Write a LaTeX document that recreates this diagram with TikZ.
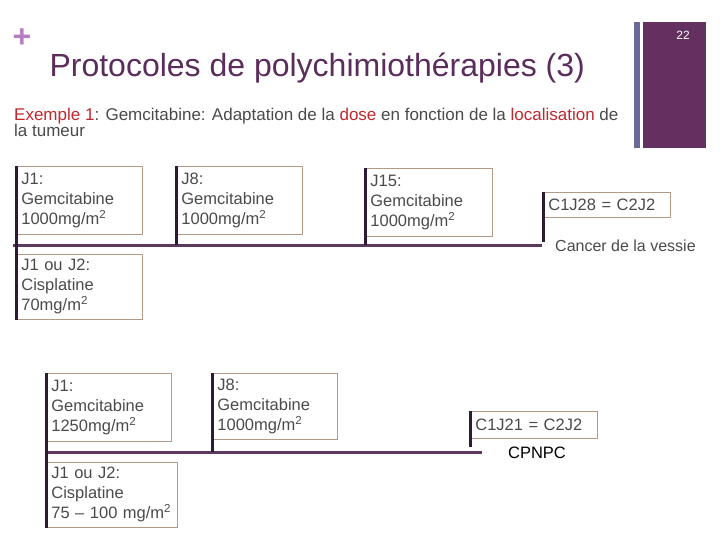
\documentclass[tikz,border=0pt]{standalone}
\usepackage{fontspec}
\setmainfont{Liberation Sans}
\definecolor{titlepurple}{HTML}{5A2D5C}
\definecolor{pluspink}{HTML}{B57EC0}
\definecolor{barslate}{HTML}{6A6A99}
\definecolor{barpurple}{HTML}{633060}
\definecolor{lineplum}{HTML}{5C3A5E}
\definecolor{tickdark}{HTML}{2D1A33}
\definecolor{boxtan}{HTML}{B49A86}
\definecolor{hotred}{HTML}{C0282D}
\definecolor{txtgray}{HTML}{4A4A4A}
\begin{document}
\begin{tikzpicture}[
  x=1pt, y=-1pt,
  every node/.style={font=\fontsize{16.5}{20}\selectfont, text=txtgray},
  dosebox/.style={draw=boxtan, line width=0.8pt, anchor=north west, align=left,
    inner xsep=5pt, inner ysep=0pt, minimum height=#1},
  dosebox/.default=68,
  timeline/.style={draw=lineplum, line width=3pt},
  tick/.style={draw=tickdark, line width=3pt}
]
  \useasboundingbox (0,0) rectangle (720,540);
  % header
  \node[text=pluspink, font=\fontsize{32}{32}\selectfont\bfseries] (plus) at (22,38) {+};
  \node[anchor=base west, text=titlepurple, font=\fontsize{32}{32}\selectfont] (title) at (46,77)
    {Protocoles de polychimiothérapies (3)};
  \fill[barslate] (634,22) rectangle (640,148);
  \fill[barpurple] (643,22) rectangle (706,148);
  \node[text=white, font=\fontsize{12}{12}\selectfont] (num) at (683,35) {22};
  \node[anchor=north west, align=left, inner sep=0pt, font=\fontsize{17}{16}\selectfont] (sub) at (14,108)
    {\textcolor{hotred}{Exemple 1}: Gemcitabine: Adaptation de la \textcolor{hotred}{dose} en fonction de la \textcolor{hotred}{localisation} de\\la tumeur};

  % vessie
  \node[dosebox, text width=116pt] (a1) at (16,166) {J1:\\Gemcitabine\\1000mg/m\textsuperscript{2}};
  \node[dosebox, text width=116pt] (a8) at (176,166) {J8:\\Gemcitabine\\1000mg/m\textsuperscript{2}};
  \node[dosebox, text width=117pt] (a15) at (365,168) {J15:\\Gemcitabine\\1000mg/m\textsuperscript{2}};
  \node[dosebox=25, text width=117pt] (a28) at (543,192) {C1J28 = C2J2};
  \node[dosebox=65, text width=116pt] (acis) at (16,254) {J1 ou J2:\\Cisplatine\\70mg/m\textsuperscript{2}};
  \node[anchor=west, inner sep=0pt, font=\fontsize{16}{20}\selectfont] (vessie) at (555,246) {Cancer de la vessie};

  \coordinate (va) at (13,245);
  \coordinate (vb) at (542,245);
  \draw[timeline] (va) -- (vb);
  \draw[tick] (a1.north west) -- (acis.south west);
  \draw[tick] (a8.north west) -- (a8.north west |- va);
  \draw[tick] (a15.north west) -- (a15.north west |- va);
  \draw[tick] (a28.north west) -- ([yshift=3pt]a28.north west |- vb);

  % CPNPC
  \node[dosebox, text width=115pt] (b1) at (46,373) {J1:\\Gemcitabine\\1250mg/m\textsuperscript{2}};
  \node[dosebox=66, text width=115pt] (b8) at (212,373) {J8:\\Gemcitabine\\1000mg/m\textsuperscript{2}};
  \node[dosebox=27, text width=117pt] (b21) at (470,411) {C1J21 = C2J2};
  \node[dosebox=65, text width=121pt] (bcis) at (46,462) {J1 ou J2:\\Cisplatine\\75 -- 100 mg/m\textsuperscript{2}};
  \node[text=black] (cpnpc) at (537,453) {CPNPC};

  \coordinate (ca) at (48,452);
  \coordinate (cb) at (482,452);
  \draw[timeline] (ca) -- (cb);
  \draw[tick] (b1.north west) -- (bcis.south west);
  \draw[tick] (b8.north west) -- (b8.north west |- ca);
  \draw[tick] (b21.north west) -- ([yshift=5pt]b21.north west |- cb);
\end{tikzpicture}
\end{document}
